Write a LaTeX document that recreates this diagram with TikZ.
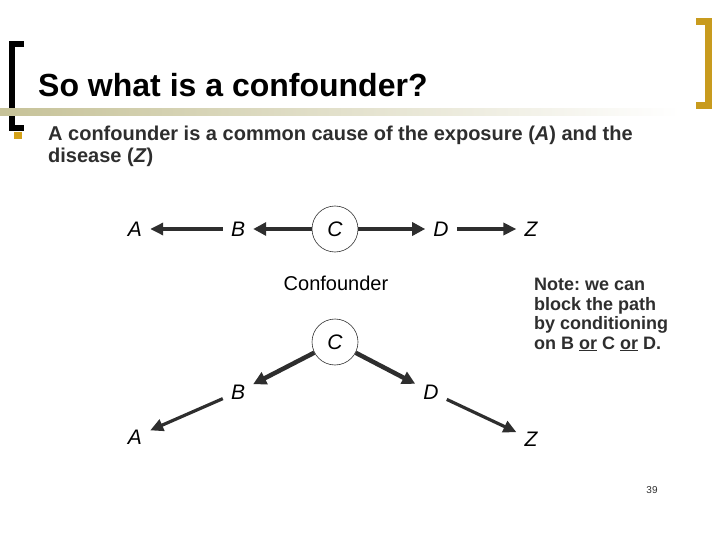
\documentclass[tikz,border=0pt]{standalone}
\usepackage{fontspec}
\setmainfont{Liberation Sans}
\usepackage{tikz}
\usetikzlibrary{arrows.meta, positioning}
\definecolor{mGold}{HTML}{C89B1E}
\definecolor{mKhaki}{HTML}{C6C298}
\definecolor{mBullet}{HTML}{D4A21A}
\definecolor{mInk}{HTML}{2E2E2E}
\frenchspacing
\tikzset{
  letter/.style={font=\fontsize{21}{25}\selectfont\itshape, inner sep=8pt},
  confcirc/.style={circle, draw=mInk, line width=0.6pt, minimum size=46pt, inner sep=0pt, font=\fontsize{21}{25}\selectfont\itshape},
  thinarr/.style={draw=mInk, line width=3.2pt, -{Triangle[length=13pt,width=12pt]}},
  thickarr/.style={draw=mInk, line width=4.5pt, -{Triangle[length=13pt,width=13pt]}},
}

\begin{document}
\begin{tikzpicture}[x=1pt, y=-1pt]
    \useasboundingbox (0,0) rectangle (720,540);
    % slide frame
    \draw[line width=6pt, miter limit=10] (24,44.5) -- (12,44.5) -- (12,128) -- (24,128);
    \draw[mGold, line width=7pt, miter limit=10] (696,21.5) -- (708.5,21.5) -- (708.5,105.5) -- (696,105.5);
    \shade[left color=mKhaki, right color=white] (0,109) rectangle (680,116);
    \node[anchor=base west, inner sep=0pt, font=\fontsize{32}{38}\selectfont\bfseries] (title) at (38,97) {So what is a confounder?};
    \fill[mBullet] (14,132) rectangle (22,139);
    \node[anchor=base west, inner sep=0pt, align=left, font=\fontsize{20}{22}\selectfont\bfseries, text=mInk] (bullet) at (48,163)
      {A confounder is a common cause of the exposure (\textit{A}) and the\\disease (\textit{Z})};

    % chain
    \node[letter] (a1) at (135,229) {A};
    \node[letter] (b1) at (238,229) {B};
    \node[confcirc] (c1) at (335,229) {C};
    \node[letter] (d1) at (441,229) {D};
    \node[letter] (z1) at (531,229) {Z};
    \draw[thinarr] (b1) -- (a1);
    \draw[thickarr] (c1) -- (b1);
    \draw[thickarr] (c1) -- (d1);
    \draw[thinarr] (d1) -- (z1);

    \node[font=\fontsize{20}{24}\selectfont] (conf) at (336,283) {Confounder};
    \node[anchor=base west, inner sep=0pt, align=left, font=\fontsize{18}{19.5}\selectfont\bfseries, text=mInk] (note) at (534,349)
      {Note: we can\\block the path\\by conditioning\\on B \underline{or} C \underline{or} D.};

    % tree
    \node[confcirc] (c2) at (335,342) {C};
    \node[letter] (b2) at (238,392) {B};
    \node[letter] (d2) at (431,392) {D};
    \node[letter] (a2) at (135,437) {A};
    \node[letter] (z2) at (531,439) {Z};
    \draw[thickarr] (c2) -- (b2);
    \draw[thickarr] (c2) -- (d2);
    \draw[thinarr] (b2) -- (a2);
    \draw[thinarr] (d2) -- (z2);

    \node[font=\fontsize{10}{12}\selectfont, text=mInk] (page) at (652,490) {39};
\end{tikzpicture}
\end{document}
